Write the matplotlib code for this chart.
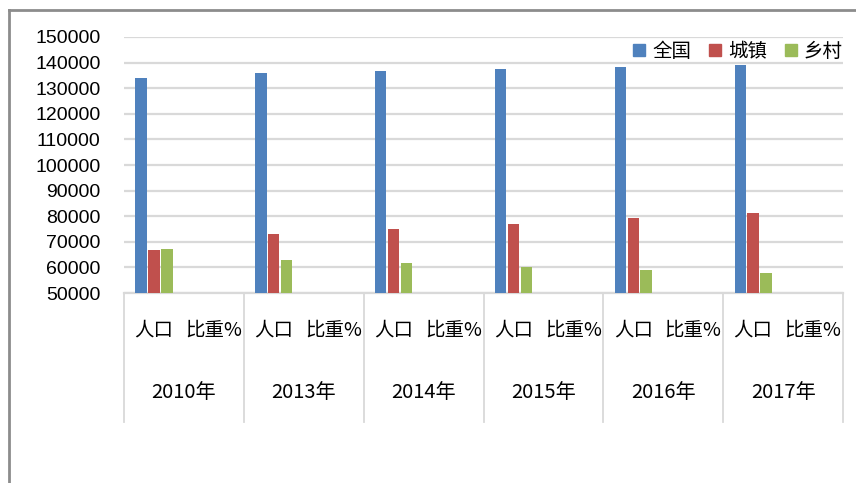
import matplotlib
matplotlib.use('Agg')
import matplotlib.pyplot as plt
import matplotlib.transforms as mtransforms
from matplotlib.lines import Line2D
import numpy as np

plt.rcParams['font.family'] = ['Noto Sans CJK SC', 'DejaVu Sans']

years = ['2010年', '2013年', '2014年', '2015年', '2016年', '2017年']
subcats = ['人口', '比重%']
series = ['全国', '城镇', '乡村']
colors = ['#4F81BD', '#C0504D', '#9BBB59']

# 人口 (万人)
pop_total = [134091, 136072, 136782, 137462, 138271, 139008]
pop_urban = [66978, 73111, 74916, 77116, 79298, 81347]
pop_rural = [67113, 62961, 61866, 60346, 58973, 57661]
# 比重% (below axis minimum, so not visible)
pct_total = [100, 100, 100, 100, 100, 100]
pct_urban = [49.95, 53.73, 54.77, 56.10, 57.35, 58.52]
pct_rural = [50.05, 46.27, 45.23, 43.90, 42.65, 41.48]

W, H = 856, 483
fig = plt.figure(figsize=(W / 100, H / 100), dpi=100)
ax = fig.add_axes([124 / W, 1 - 293 / H, (843 - 124) / W, (293 - 37) / H])

n = len(years)
pop = [pop_total, pop_urban, pop_rural]
pct = [pct_total, pct_urban, pct_rural]
bw = 0.19
step = 0.215
for k in range(3):
    xs_pop = np.arange(n) * 2 + 0.5 + (k - 1) * step
    xs_pct = np.arange(n) * 2 + 1.5 + (k - 1) * step
    ax.bar(xs_pop, pop[k], bw, color=colors[k], zorder=3)
    ax.bar(xs_pct, pct[k], bw, color=colors[k], zorder=3)

ax.set_xlim(0, 2 * n)
ax.set_ylim(50000, 150000)
ax.set_yticks(np.arange(50000, 150001, 10000))
ax.tick_params(axis='y', length=0, pad=17, labelsize=14)
for lab in ax.get_yticklabels():
    lab.set_family(['Liberation Sans', 'DejaVu Sans'])
ax.set_xticks([])
ax.grid(axis='y', color='#d9d9d9', lw=1.6, zorder=0)
for s in ['left', 'right', 'top']:
    ax.spines[s].set_visible(False)
ax.spines['bottom'].set_color('#d9d9d9')
ax.spines['bottom'].set_linewidth(1.6)

# multi-level category axis
tr = mtransforms.blended_transform_factory(ax.transData, ax.transAxes)
for i in range(n + 1):
    ax.plot([2 * i, 2 * i], [0, -0.504], transform=tr, color='#d9d9d9',
            lw=1.3, clip_on=False)
for i in range(n):
    for j, sc in enumerate(subcats):
        ax.text(2 * i + 0.5 + j, -0.145, sc, transform=tr, ha='center',
                va='center', fontsize=14)
    ax.text(2 * i + 1, -0.39, years[i], transform=tr, ha='center',
            va='center', fontsize=14.5,
            family=['Liberation Sans Narrow', 'Noto Sans CJK SC'])

handles = [Line2D([], [], marker='s', ls='none', markersize=9,
                  color=c) for c in colors]
ax.legend(handles, series, loc='upper right', bbox_to_anchor=(1.0, 0.985),
          ncol=3, frameon=False, fontsize=14, handlelength=0.7,
          handletextpad=0.3, columnspacing=0.9, borderpad=0, borderaxespad=0)

# outer chart frame
fig.add_artist(Line2D([9 / W, 9 / W], [0, 1 - 10 / H], color='#8c8c8c', lw=2))
fig.add_artist(Line2D([9 / W, 1], [1 - 10 / H, 1 - 10 / H], color='#8c8c8c', lw=2))

fig.savefig('out.png', dpi=100)
